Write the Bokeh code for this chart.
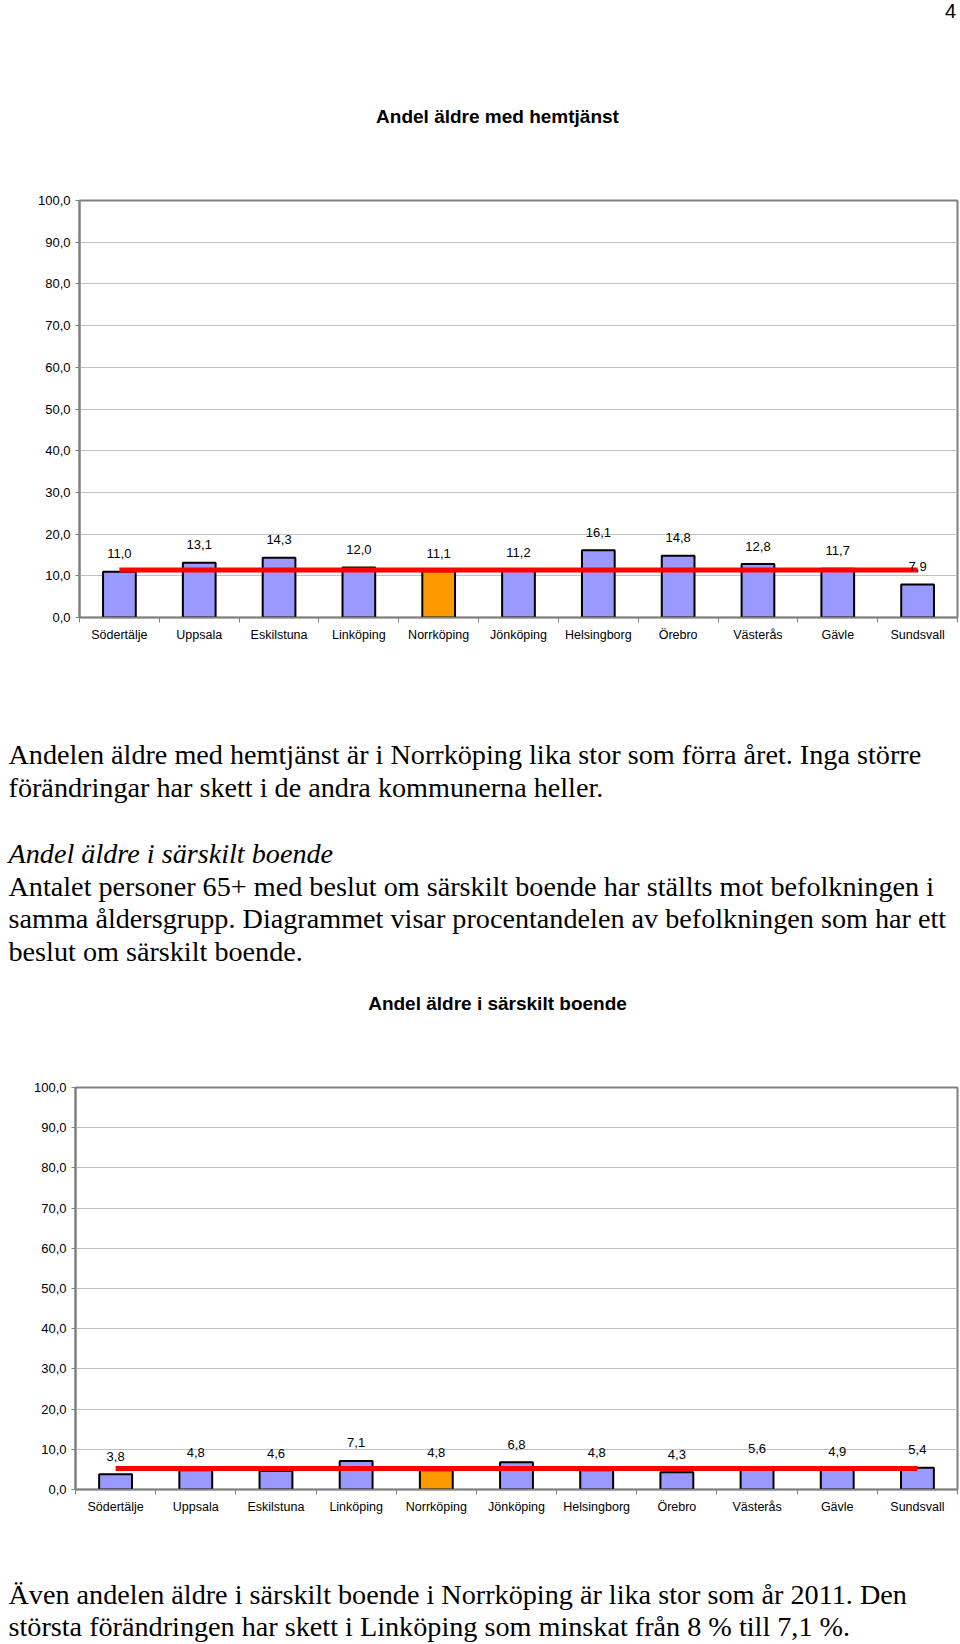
import numpy as np
from bokeh.plotting import figure
from bokeh.models import Range1d, FixedTicker, ColumnDataSource, CustomJSTickFormatter
from bokeh.layouts import column
from bokeh.embed import file_html
from bokeh.resources import INLINE
from bokeh.core.properties import value

# ---------------- data ----------------
kommuner = ["Södertälje", "Uppsala", "Eskilstuna", "Linköping", "Norrköping", "Jönköping",
            "Helsingborg", "Örebro", "Västerås", "Gävle", "Sundsvall"]
highlight = "Norrköping"
hemtjanst = [11.0, 13.1, 14.3, 12.0, 11.1, 11.2, 16.1, 14.8, 12.8, 11.7, 7.9]
hemtjanst_snitt = [11.4, 11.4, 11.4, 11.4, 11.4, 11.4, 11.4, 11.4, 11.4, 11.4, 11.4]
sarskilt = [3.8, 4.8, 4.6, 7.1, 4.8, 6.8, 4.8, 4.3, 5.6, 4.9, 5.4]
sarskilt_snitt = [5.2, 5.2, 5.2, 5.2, 5.2, 5.2, 5.2, 5.2, 5.2, 5.2, 5.2]
y_ticks = [0, 10, 20, 30, 40, 50, 60, 70, 80, 90, 100]
y_tick_labels = ["0,0", "10,0", "20,0", "30,0", "40,0", "50,0", "60,0", "70,0", "80,0", "90,0", "100,0"]

page_number = "4"
title1 = "Andel äldre med hemtjänst"
title2 = "Andel äldre i särskilt boende"
para1 = ["Andelen äldre med hemtjänst är i Norrköping lika stor som förra året. Inga större",
         "förändringar har skett i de andra kommunerna heller."]
heading2 = "Andel äldre i särskilt boende"
para2 = ["Antalet personer 65+ med beslut om särskilt boende har ställts mot befolkningen i",
         "samma åldersgrupp. Diagrammet visar procentandelen av befolkningen som har ett",
         "beslut om särskilt boende."]
para3 = ["Även andelen äldre i särskilt boende i Norrköping är lika stor som år 2011. Den",
         "största förändringen har skett i Linköping som minskat från 8 % till 7,1 %."]

# ---------------- style ----------------
W = 960
BLUE = "#9999ff"
ORANGE = "#ff9900"
RED = "#ff0000"
SANS = value("Liberation Sans")
SERIF = value("Liberation Serif")
BODY_SIZE = "28.2px"
TITLE_SIZE = "19px"


def fmt(v):
    return f"{v:.1f}".replace(".", ",")


def text_fig(h):
    p = figure(width=W, height=h, x_range=Range1d(0, W), y_range=Range1d(h, 0),
               output_backend="svg", toolbar_location=None, min_border=0,
               min_border_left=0, min_border_right=0, min_border_top=0, min_border_bottom=0,
               x_axis_location=None, y_axis_location=None, frame_align=False)
    p.grid.visible = False
    p.outline_line_color = None
    p.background_fill_color = "white"
    p.border_fill_color = "white"
    return p


def body(p, ys, lines, style="normal"):
    p.text(x=[8] * len(lines), y=ys, text=lines, text_align="left",
           text_baseline="alphabetic", text_font=SERIF, text_font_size=BODY_SIZE,
           text_font_style=style, text_color="black")


def chart(vals, snitt, height, top, bottom, left, right):
    n = len(kommuner)
    p = figure(width=W, height=height, output_backend="svg", toolbar_location=None,
               x_range=Range1d(0, n), y_range=Range1d(0, 100),
               min_border_top=top, min_border_bottom=bottom,
               min_border_left=left, min_border_right=right, frame_align=False)
    xs = np.arange(n) + 0.5
    colors = [ORANGE if k == highlight else BLUE for k in kommuner]
    src = ColumnDataSource(dict(x=xs, top=vals, snitt=snitt, color=colors,
                                label=[fmt(v) for v in vals]))
    p.vbar(x="x", top="top", bottom=0, width=0.41, fill_color="color",
           line_color="black", line_width=2, source=src)
    p.line(x="x", y="snitt", line_color=RED, line_width=5, source=src)
    p.text(x="x", y="top", text="label", y_offset=-18, text_align="center",
           text_baseline="middle", text_font=SANS, text_font_size="13px",
           text_color="black", source=src)

    p.xgrid.visible = False
    p.ygrid.grid_line_color = "#c0c0c0"
    p.ygrid.grid_line_width = 1
    p.ygrid.ticker = FixedTicker(ticks=y_ticks)

    p.yaxis.ticker = FixedTicker(ticks=y_ticks)
    p.yaxis.major_label_overrides = {t: l for t, l in zip(y_ticks, y_tick_labels)}
    p.yaxis.axis_line_color = "#808080"
    p.yaxis.axis_line_width = 2
    p.yaxis.major_tick_line_color = "#808080"
    p.yaxis.major_tick_out = 4
    p.yaxis.major_tick_in = 0
    p.yaxis.minor_tick_line_color = None
    p.yaxis.major_label_standoff = 5
    p.yaxis.major_label_text_font = "Liberation Sans"
    p.yaxis.major_label_text_font_size = "13px"
    p.yaxis.major_label_text_color = "black"

    p.xaxis.ticker = FixedTicker(ticks=list(xs), minor_ticks=list(range(n + 1)))
    p.xaxis.formatter = CustomJSTickFormatter(args=dict(labels=kommuner),
                                              code="return labels[Math.floor(tick)];")
    p.xaxis.axis_line_color = "#808080"
    p.xaxis.axis_line_width = 1.5
    p.xaxis.major_tick_line_color = None
    p.xaxis.major_tick_out = 0
    p.xaxis.major_tick_in = 0
    p.xaxis.minor_tick_line_color = "#808080"
    p.xaxis.minor_tick_out = 5
    p.xaxis.minor_tick_in = 0
    p.xaxis.major_label_standoff = 5
    p.xaxis.major_label_text_font = "Liberation Sans"
    p.xaxis.major_label_text_font_size = "12.5px"
    p.xaxis.major_label_text_color = "black"

    p.outline_line_color = "#808080"
    p.outline_line_width = 2
    p.background_fill_color = "white"
    p.border_fill_color = "white"
    return p


# page y 0..190
t1 = text_fig(190)
t1.text(x=[950], y=[10], text=[page_number], text_align="center", text_baseline="alphabetic",
        text_font=SANS, text_font_size="20px", text_color="black")
t1.text(x=[497], y=[116], text=[title1], text_align="center", text_baseline="alphabetic",
        text_font=SANS, text_font_size=TITLE_SIZE, text_font_style="bold", text_color="black")

# page y 190..660  (frame 200..617, x 79..957)
c1 = chart(hemtjanst, hemtjanst_snitt, 470, 10, 43, 79, 3)

# page y 660..1077
p1 = text_fig(417)
body(p1, [93.5, 126.5], para1)
body(p1, [192.5], [heading2], style="italic")
body(p1, [225.5, 257.5, 290.5], para2)
p1.text(x=[497], y=[343], text=[title2], text_align="center", text_baseline="alphabetic",
        text_font=SANS, text_font_size=TITLE_SIZE, text_font_style="bold", text_color="black")

# page y 1077..1530 (frame 1087..1489, x 75..957)
c2 = chart(sarskilt, sarskilt_snitt, 453, 10, 41, 75, 3)

# page y 1530..1644
p2 = text_fig(114)
body(p2, [64, 96], para3)

layout = column(t1, c1, p1, c2, p2, spacing=0)
open("out.html", "w").write(file_html(layout, INLINE))
